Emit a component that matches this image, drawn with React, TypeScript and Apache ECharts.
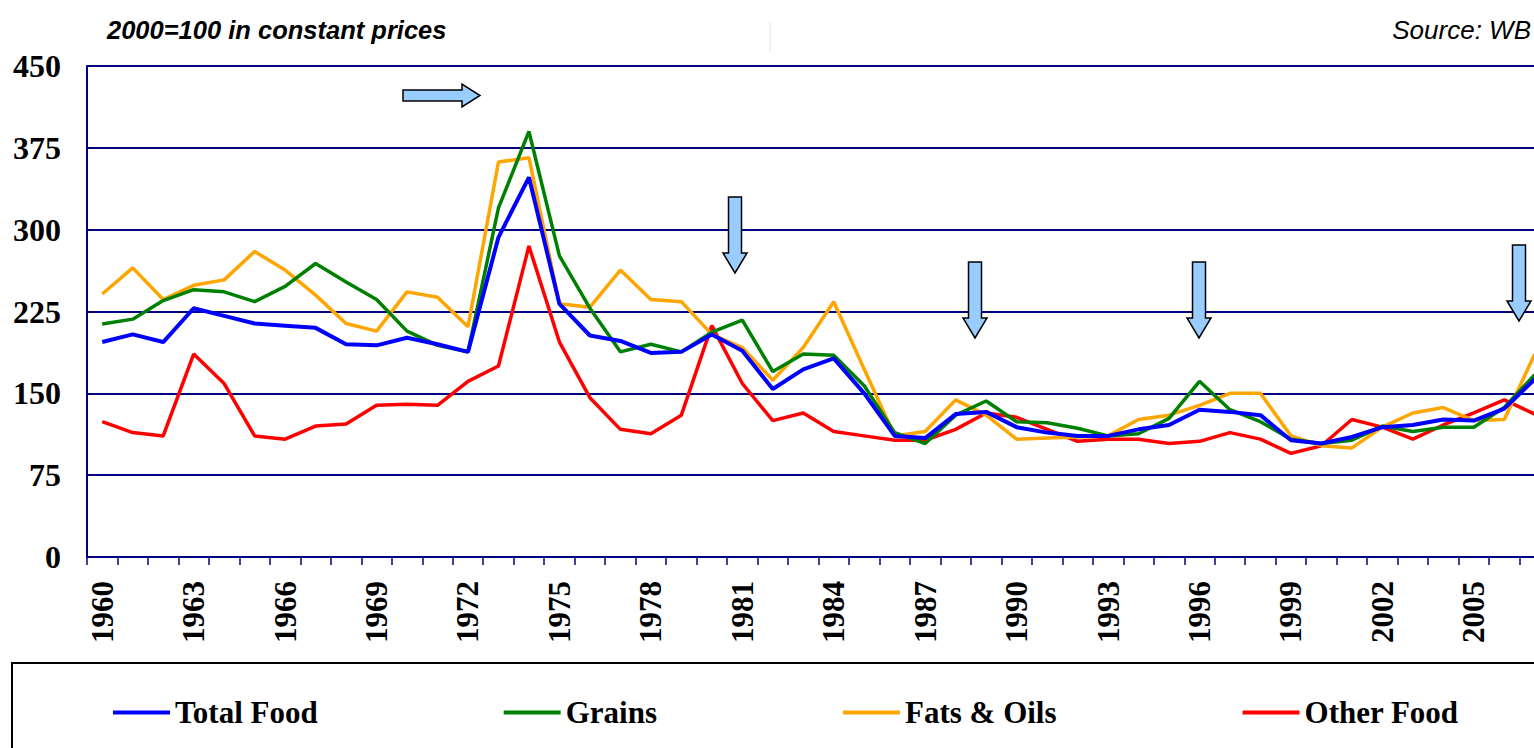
import React, { useEffect, useRef } from "react";
import * as echarts from "echarts";

const years: string[] = [];
for (let y = 1960; y <= 2007; y++) years.push(String(y));

const totalFood = [
  197, 204, 197, 228, 221, 214, 212, 210, 195, 194, 201, 195, 188,
  293, 348, 232, 203, 198, 187, 188, 204, 189, 154, 172, 182,
  150, 111, 109, 131, 133, 119, 114, 111, 111, 117, 121, 135,
  133, 130, 107, 104, 110, 119, 121, 126, 125, 136, 163,
];
const grains = [
  213.5, 218, 235, 245, 243, 234, 248, 269, 252, 236, 207, 194, 188,
  320, 390, 276, 228, 188, 195, 188, 206, 217, 170, 186, 185,
  157, 114, 104, 130, 143, 124, 123, 118, 111, 113, 127, 161,
  135, 124, 108, 104, 107, 120, 115, 119, 119, 137, 167,
];
const fatsOils = [
  241, 265, 236, 249, 254, 280, 263, 240, 214, 207, 243, 238, 211,
  362, 366, 232, 229, 263, 236, 234, 204, 192, 162, 192, 234,
  172, 111, 115, 144, 130, 108, 109, 110, 111, 126, 130, 139,
  150, 150, 111, 102, 100, 119, 132, 137, 125, 126, 186,
];
const otherFood = [
  124, 114, 111, 186, 159, 111, 108, 120, 122, 139, 140, 139, 161,
  175, 285, 197, 146, 117, 113, 130, 212, 159, 125, 132, 115,
  111, 107, 107, 117, 132, 128, 117, 106, 108, 108, 104, 106,
  114, 108, 95, 102, 126, 119, 108, 121, 132, 144, 131,
];

const seriesNames = ["Total Food", "Grains", "Fats & Oils", "Other Food"];
const seriesColors = ["#0000FF", "#008000", "#FFA500", "#FF0000"];
const seriesData = [totalFood, grains, fatsOils, otherFood];

const NAVY = "#000080";
const SERIF = "'Liberation Serif', 'Times New Roman', serif";
const SANS = "'Liberation Sans', Arial, sans-serif";

function downArrow(cx: number, top: number, tip: number) {
  const bw = 6.5, hw = 12, hl = 20;
  return {
    type: "polygon",
    z: 100,
    shape: {
      points: [
        [cx - bw, top], [cx + bw, top], [cx + bw, tip - hl], [cx + hw, tip - hl],
        [cx, tip], [cx - hw, tip - hl], [cx - bw, tip - hl],
      ],
    },
    style: { fill: "#99CCFF", stroke: "#000", lineWidth: 1.5 },
  };
}

export default function App() {
  const ref = useRef<HTMLDivElement>(null);
  useEffect(() => {
    if (!ref.current) return;
    const chart = echarts.init(ref.current, null, { renderer: "svg" });
    chart.setOption({
      animation: false,
      backgroundColor: "#fff",
      grid: { left: 87, top: 66, right: 50, bottom: 191 },
      legend: {
        data: seriesNames,
        left: 108,
        top: 692,
        icon: "rect",
        itemWidth: 57,
        itemHeight: 4,
        itemGap: 186,
        textStyle: {
          fontFamily: SERIF,
          fontWeight: "bold",
          fontSize: 31,
          color: "#000",
          lineHeight: 31,
          padding: 0,
        },
      },
      xAxis: {
        type: "category",
        data: years,
        boundaryGap: true,
        axisLine: { show: true, lineStyle: { color: NAVY, width: 2 } },
        axisTick: { show: true, interval: 0, length: 8, lineStyle: { color: NAVY, width: 1.5 } },
        axisLabel: {
          interval: 2,
          rotate: 90,
          margin: 24,
          fontFamily: SERIF,
          fontWeight: "bold",
          fontSize: 31,
          color: "#000",
        },
        splitLine: { show: false },
      },
      yAxis: {
        type: "value",
        min: 0,
        max: 450,
        interval: 75,
        axisLine: { show: true, lineStyle: { color: NAVY, width: 2 } },
        axisTick: { show: false },
        axisLabel: {
          margin: 26,
          fontFamily: SERIF,
          fontWeight: "bold",
          fontSize: 32,
          color: "#000",
        },
        splitLine: { show: true, lineStyle: { color: NAVY, width: 2 } },
      },
      series: seriesNames.map((name, i) => ({
        name,
        type: "line",
        data: seriesData[i],
        color: seriesColors[i],
        symbol: "none",
        lineStyle: { color: seriesColors[i], width: i === 0 ? 4 : 3.5 },
        z: 10 - i,
      })),
      graphic: [
        {
          type: "text",
          x: 107,
          y: 30,
          style: {
            text: "2000=100 in constant prices",
            font: `italic bold 25.5px ${SANS}`,
            fill: "#000",
            textVerticalAlign: "middle",
          },
        },
        {
          type: "text",
          x: 1531,
          y: 30,
          style: {
            text: "Source: WB",
            font: `italic 26px ${SANS}`,
            fill: "#000",
            textAlign: "right",
            textVerticalAlign: "middle",
          },
        },
        {
          type: "line",
          shape: { x1: 770, y1: 22, x2: 770, y2: 52 },
          style: { stroke: "#e4e4e4", lineWidth: 1 },
        },
        {
          type: "rect",
          shape: { x: 12, y: 663, width: 1700, height: 200 },
          style: { fill: "none", stroke: "#000", lineWidth: 2 },
        },
        {
          type: "polygon",
          z: 100,
          shape: {
            points: [
              [403, 90], [462, 90], [462, 84], [480, 95.5], [462, 107], [462, 101], [403, 101],
            ],
          },
          style: { fill: "#99CCFF", stroke: "#000", lineWidth: 1.5 },
        },
        downArrow(735, 197, 273),
        downArrow(975, 262, 338),
        downArrow(1199, 262, 338),
        downArrow(1519, 245, 321),
      ],
    });
    return () => chart.dispose();
  }, []);
  return (
    <div
      style={{
        position: "fixed",
        left: 0,
        top: 0,
        width: 1534,
        height: 748,
        overflow: "hidden",
        background: "#fff",
      }}
    >
      <div ref={ref} style={{ width: 1600, height: 748 }} />
    </div>
  );
}
